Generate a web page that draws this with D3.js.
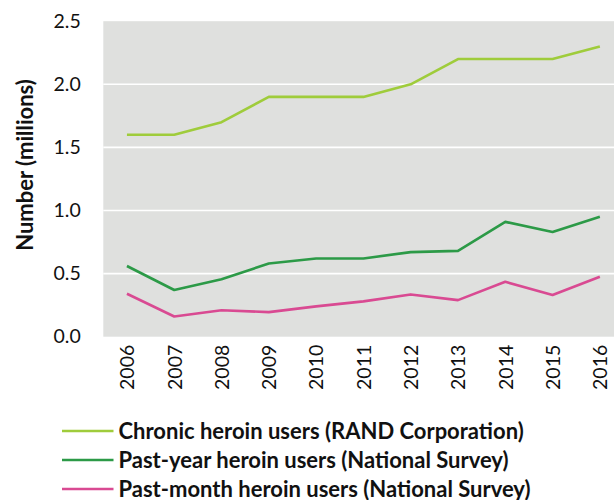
<!DOCTYPE html>
<html>
<head>
<meta charset="utf-8">
<script src="https://cdn.jsdelivr.net/npm/d3@7"></script>
<style>
  html, body { margin: 0; padding: 0; background: #ffffff; }
  svg { display: block; }
  text { font-family: Lato, "Open Sans", sans-serif; fill: #111; }
</style>
</head>
<body>
<svg id="chart" width="614" height="500"></svg>
<script>
// Heroin users in the United States, 2006–2016 (millions)
const years = ["2006", "2007", "2008", "2009", "2010", "2011", "2012", "2013", "2014", "2015", "2016"];
const chronicUsers = [1.6, 1.6, 1.7, 1.9, 1.9, 1.9, 2.0, 2.2, 2.2, 2.2, 2.3];
const pastYearUsers = [0.56, 0.37, 0.455, 0.58, 0.62, 0.62, 0.67, 0.68, 0.91, 0.83, 0.95];
const pastMonthUsers = [0.34, 0.16, 0.21, 0.195, 0.24, 0.28, 0.335, 0.29, 0.435, 0.33, 0.475];
const yTicks = [0, 0.5, 1.0, 1.5, 2.0, 2.5];
const seriesNames = [
  "Chronic heroin users (RAND Corporation)",
  "Past-year heroin users (National Survey)",
  "Past-month heroin users (National Survey)"
];
const seriesColors = ["#9fcc3b", "#2c9a47", "#d94a92"];

const series = [chronicUsers, pastYearUsers, pastMonthUsers].map((values, i) => ({
  name: seriesNames[i],
  color: seriesColors[i],
  values: values.map((v, j) => ({ year: years[j], value: v }))
}));

const svg = d3.select("#chart");
const plot = { left: 103.3, right: 623.5, top: 21.2, bottom: 336.7 };

const x = d3.scalePoint().domain(years).range([plot.left, plot.right]).padding(0.5);
const y = d3.scaleLinear().domain([0, 2.5]).range([plot.bottom, plot.top]);

// plot background
svg.append("rect")
  .attr("x", plot.left).attr("y", plot.top)
  .attr("width", plot.right - plot.left).attr("height", plot.bottom - plot.top)
  .attr("fill", "#dfe0de");

// horizontal gridlines
svg.append("g")
  .selectAll("line")
  .data(yTicks.filter(t => t > 0 && t < 2.5))
  .join("line")
  .attr("x1", plot.left).attr("x2", plot.right)
  .attr("y1", d => y(d)).attr("y2", d => y(d))
  .attr("stroke", "#ffffff").attr("stroke-width", 1.6);

// y axis labels
const yAxis = svg.append("g")
  .attr("transform", `translate(${plot.left},0)`)
  .call(d3.axisLeft(y).tickValues(yTicks).tickFormat(d3.format(".1f")).tickSize(0).tickPadding(22.6));
yAxis.select(".domain").remove();
yAxis.selectAll("text")
  .style("font-family", "Lato, 'Open Sans', sans-serif")
  .style("font-size", "19.5px")
  .attr("fill", "#111");

// x axis labels, rotated
const xAxis = svg.append("g")
  .attr("transform", `translate(0,${plot.bottom})`)
  .call(d3.axisBottom(x).tickSize(0).tickPadding(0));
xAxis.select(".domain").remove();
xAxis.selectAll("text")
  .style("font-family", "Lato, 'Open Sans', sans-serif")
  .style("font-size", "19.5px")
  .attr("fill", "#111")
  .attr("text-anchor", "end")
  .attr("transform", "rotate(-90)")
  .attr("x", -8)
  .attr("y", 0)
  .attr("dy", "0.35em");

// y axis title
svg.append("text")
  .attr("transform", `translate(33,165) rotate(-90)`)
  .attr("text-anchor", "middle")
  .style("font-size", "22px")
  .style("font-weight", "bold")
  .text("Number (millions)");

// series lines
const line = d3.line()
  .x(d => x(d.year))
  .y(d => y(d.value));

svg.append("g")
  .selectAll("path")
  .data(series)
  .join("path")
  .attr("d", d => line(d.values))
  .attr("fill", "none")
  .attr("stroke", d => d.color)
  .attr("stroke-width", 2.6)
  .attr("stroke-linejoin", "round");

// legend
const legend = svg.append("g")
  .selectAll("g")
  .data(series)
  .join("g")
  .attr("transform", (d, i) => `translate(62,${431 + i * 29})`);

legend.append("line")
  .attr("x1", 0).attr("x2", 51.5)
  .attr("y1", 0).attr("y2", 0)
  .attr("stroke", d => d.color)
  .attr("stroke-width", 2.6);

legend.append("text")
  .attr("x", 56.5)
  .attr("y", 0)
  .attr("dy", "0.36em")
  .style("font-size", "22px")
  .style("font-weight", "bold")
  .text(d => d.name);
</script>
</body>
</html>
